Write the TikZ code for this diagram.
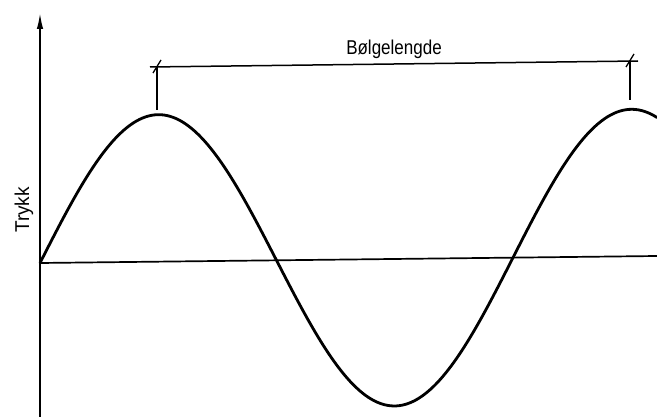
\documentclass[tikz,border=0pt]{standalone}
\usepackage{fontspec}
\setmainfont{Liberation Sans}
\usetikzlibrary{arrows.meta,calc}
\tikzset{
  axisline/.style={line width=1.7pt, black},
  waveline/.style={line width=2.8pt, black, line join=round, line cap=round},
  dimline/.style={line width=1.5pt, black},
  ticksl/.style={line width=1.3pt, black},
  lbl/.style={font=\fontsize{20}{24}\selectfont, inner sep=0pt}
}
\begin{document}
\begin{tikzpicture}[x=1pt,y=-1pt]
\useasboundingbox (0,0) rectangle (657,417);
% axes
\coordinate (ybot) at (40,417);
\coordinate (ytop) at (40,13);
\coordinate (x0) at (40,263);
\coordinate (xend) at (657,256);
\draw[axisline, -{Latex[length=16pt,width=6.5pt]}] (ybot) -- (ytop);
\draw[axisline] (x0) -- (xend);
% wave
\draw[waveline, domain=40:657, samples=200, smooth, variable=\t]
  plot ({\t}, {263 - ((\t-40)/617)*7 - 147*sin(((\t-40)/473)*360)});
% dimension
\coordinate (p1) at (157,67);
\coordinate (p2) at (630,61);
\coordinate (e1) at (157,110);
\coordinate (e2) at (630,100);
\draw[dimline] ($(p1)+(-7,0)$) -- ($(p2)+(8,0)$);
\draw[dimline] (p1) -- (e1);
\draw[dimline] (p2) -- (e2);
\draw[ticksl] ($(p1)+(-4,6)$) -- ($(p1)+(4,-7)$);
\draw[ticksl] ($(p2)+(-4,6)$) -- ($(p2)+(4,-7)$);
\node[lbl, anchor=base] (bl) at (394,55) {\scalebox{0.85}[1]{Bølgelengde}};
\node[lbl, rotate=90, anchor=base] (tr) at (29,210) {\scalebox{0.95}[1]{Trykk}};
\end{tikzpicture}
\end{document}
